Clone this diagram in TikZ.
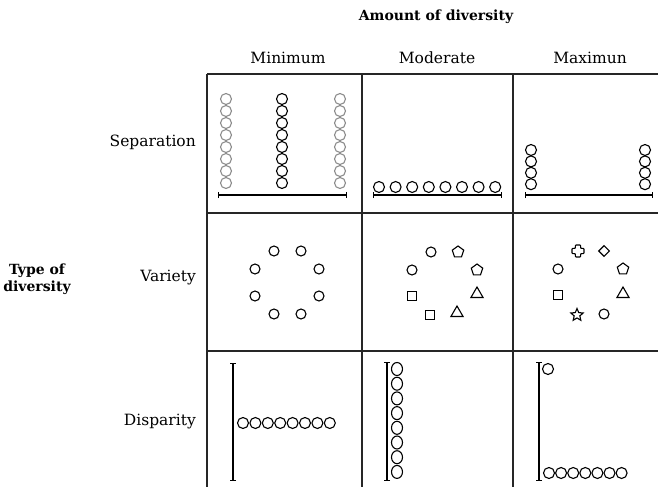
\documentclass[tikz,border=0pt]{standalone}
\usepackage{fontspec}
\setmainfont{DejaVu Serif}
\usetikzlibrary{arrows.meta,positioning,shapes.geometric}

\begin{document}
\begin{tikzpicture}[
  x=1pt, y=-1pt,
  lbl/.style={font=\fontsize{15.5}{18}\selectfont, inner sep=0pt},
  head/.style={font=\bfseries\fontsize{14}{17}\selectfont, inner sep=0pt, align=center},
  rule/.style={draw=black!85, line width=1.3pt},
  ring/.style={circle, draw, line width=1.1pt, minimum size=11pt, inner sep=0pt},
  pale/.style={ring, draw=black!45},
  oval/.style={ellipse, draw, line width=1.1pt, minimum width=11pt, minimum height=13pt, inner sep=0pt},
  dot/.style={circle, draw, line width=1.1pt, minimum size=10pt, inner sep=0pt},
  box/.style={rectangle, draw, line width=1.1pt, minimum size=9.5pt, inner sep=0pt},
  penta/.style={regular polygon, regular polygon sides=5, draw, line width=1.1pt, minimum size=12pt, inner sep=0pt},
  tri/.style={regular polygon, regular polygon sides=3, draw, line width=1.1pt, minimum size=14pt, inner sep=0pt},
  rhomb/.style={diamond, draw, line width=1.1pt, minimum size=11pt, inner sep=0pt},
  starry/.style={star, star points=5, star point ratio=2.2, draw, line width=1.1pt, minimum size=13pt, inner sep=0pt},
  axis/.style={{Bar[width=6pt]}-{Bar[width=6pt]}, line width=1.2pt},
]
  \useasboundingbox (0,0) rectangle (658,487);

  % headings
  \node[head] (amount) at (436,17) {Amount of diversity};
  \node[lbl] (cmin) at (288,58) {Minimum};
  \node[lbl] (cmod) at (437,58) {Moderate};
  \node[lbl] (cmax) at (590,58) {Maximun};
  \node[head] (type) at (37,279) {Type of\\diversity};
  \node[lbl, anchor=east] (rsep) at (196,142) {Separation};
  \node[lbl, anchor=east] (rvar) at (196,278) {Variety};
  \node[lbl, anchor=east] (rdis) at (196,422) {Disparity};

  % table rules
  \draw[rule] (207,74) -- (658,74);
  \draw[rule] (207,213) -- (658,213);
  \draw[rule] (207,351) -- (658,351);
  \foreach \x in {207,362,513}
    \draw[rule] (\x,74) -- (\x,487);

  % separation
  \foreach \k in {0,...,7} {
    \node[pale] (sa\k) at (226,99+12*\k) {};
    \node[ring] (sb\k) at (282,99+12*\k) {};
    \node[pale] (sc\k) at (340,99+12*\k) {};
    \node[ring] (sm\k) at (379+16.6*\k,187) {};
  }
  \foreach \k in {0,...,3} {
    \node[ring] (sl\k) at (531,150+11.4*\k) {};
    \node[ring] (sr\k) at (645,150+11.4*\k) {};
  }
  \coordinate (a1l) at (218,195); \coordinate (a1r) at (347,195);
  \coordinate (a2l) at (373,195); \coordinate (a2r) at (502,195);
  \coordinate (a3l) at (525,195); \coordinate (a3r) at (653,195);
  \draw[axis] (a1l) -- (a1r);
  \draw[axis] (a2l) -- (a2r);
  \draw[axis] (a3l) -- (a3r);

  % variety
  \foreach \p [count=\i] in {(274,251),(301,251),(255,269),(319,269),(255,296),(319,296),(274,314),(301,314)}
    \node[dot] (v\i) at \p {};

  \node[dot] (w1) at (431,252) {};
  \node[penta] (w2) at (458,252) {};
  \node[dot] (w3) at (412,270) {};
  \node[penta] (w4) at (477,270) {};
  \node[box] (w5) at (412,296) {};
  \node[tri] (w6) at (477,294) {};
  \node[box] (w7) at (430,315) {};
  \node[tri] (w8) at (457,313) {};

  \coordinate (u1) at (578,251);
  \draw[line width=1.1pt, rounded corners=0.8pt, shift={(u1)}]
    (-2.6,-6) -- (2.6,-6) -- (2.6,-2.6) -- (6,-2.6) -- (6,2.6) -- (2.6,2.6)
    -- (2.6,6) -- (-2.6,6) -- (-2.6,2.6) -- (-6,2.6) -- (-6,-2.6) -- (-2.6,-2.6) -- cycle;
  \node[rhomb] (u2) at (604,251) {};
  \node[dot] (u3) at (558,269) {};
  \node[penta] (u4) at (623,269) {};
  \node[box] (u5) at (558,295) {};
  \node[tri] (u6) at (623,294) {};
  \node[starry] (u7) at (577,315) {};
  \node[dot] (u8) at (604,314) {};

  % disparity
  \coordinate (d1t) at (233,363); \coordinate (d1b) at (233,481);
  \coordinate (d2t) at (387,362); \coordinate (d2b) at (387,481);
  \coordinate (d3t) at (539,362); \coordinate (d3b) at (539,481);
  \draw[axis] (d1t) -- (d1b);
  \draw[axis] (d2t) -- (d2b);
  \draw[axis] (d3t) -- (d3b);
  \foreach \k in {0,...,7} {
    \node[ring] (da\k) at (243+12.4*\k,423) {};
    \node[oval] (db\k) at (397,369+14.7*\k) {};
  }
  \node[ring] (dtop) at (548,369) {};
  \foreach \k in {0,...,6}
    \node[ring] (dc\k) at (549+12.1*\k,473) {};
\end{tikzpicture}
\end{document}
